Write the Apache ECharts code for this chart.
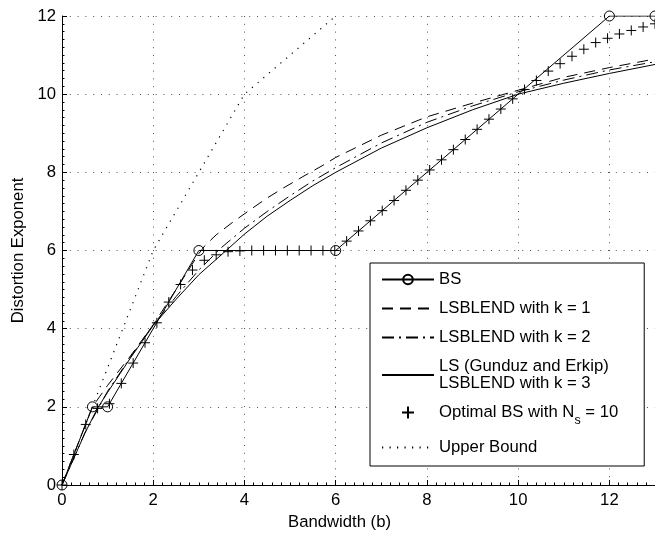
<!DOCTYPE html>
<html><head><meta charset="utf-8">
<script src="https://cdn.jsdelivr.net/npm/echarts@6/dist/echarts.min.js"></script>
<style>html,body{margin:0;padding:0;background:#fff}#c{width:655px;height:536px}</style>
</head><body><div id="c"></div>
<script>
// ---- data ----
const seriesNames = ['BS', 'LSBLEND with k = 1', 'LSBLEND with k = 2', 'LS (Gunduz and Erkip)\nLSBLEND with k = 3', 'Optimal BS with Ns = 10', 'Upper Bound'];

const bsX = [0, 0.667, 1, 3, 6, 12, 13];
const bsY = [0, 2, 2, 6, 6, 12, 12];

const k1X = [0, 0.667, 1, 1.5, 2, 2.5, 3, 3.13, 3.38, 3.75, 4.11, 4.48, 4.84, 5.28, 5.72, 6, 7, 8, 9, 10, 11, 12, 13];
const k1Y = [0, 2, 2.55, 3.3, 4.1, 5.0, 5.92, 6.12, 6.4, 6.73, 7.03, 7.33, 7.59, 7.89, 8.18, 8.38, 8.95, 9.42, 9.77, 10.1, 10.43, 10.68, 10.9];

const k2X = [0, 0.5, 1, 1.5, 2, 2.5, 3, 3.5, 4, 4.5, 5, 5.5, 6, 7, 8, 9, 10, 11, 12, 13];
const k2Y = [0, 1.33, 2.4, 3.27, 4.1, 4.82, 5.5, 6.08, 6.57, 7.0, 7.4, 7.78, 8.12, 8.75, 9.28, 9.7, 10.06, 10.36, 10.62, 10.83];

const lsX = [0, 0.5, 0.78, 1, 1.5, 2, 2.5, 3, 3.6, 4, 4.5, 5, 5.5, 6, 7, 8, 9, 10, 11, 12, 13];
const lsY = [0, 1.32, 1.97, 2.37, 3.25, 4.08, 4.75, 5.38, 6.0, 6.42, 6.88, 7.28, 7.66, 8.0, 8.62, 9.14, 9.6, 10.0, 10.28, 10.53, 10.76];

const optX = [0, 0.26, 0.52, 0.78, 1.04, 1.3, 1.56, 1.82, 2.08, 2.34, 2.6, 2.86, 3.12, 3.38, 3.64, 3.9, 4.16, 4.42, 4.68, 4.94, 5.2, 5.46, 5.72, 5.98, 6.24, 6.5, 6.76, 7.02, 7.28, 7.54, 7.8, 8.06, 8.32, 8.58, 8.84, 9.1, 9.36, 9.62, 9.88, 10.14, 10.4, 10.66, 10.92, 11.18, 11.44, 11.7, 11.96, 12.22, 12.48, 12.74, 13.0];
const optY = [0, 0.78, 1.55, 1.96, 2.08, 2.6, 3.12, 3.64, 4.15, 4.68, 5.13, 5.5, 5.75, 5.89, 5.97, 5.99, 6, 6, 6, 6, 6, 6, 6, 6, 6.24, 6.5, 6.76, 7.02, 7.28, 7.54, 7.8, 8.06, 8.32, 8.58, 8.84, 9.1, 9.36, 9.62, 9.88, 10.12, 10.35, 10.59, 10.78, 10.97, 11.15, 11.32, 11.43, 11.54, 11.63, 11.72, 11.8];

const ubX = [0, 2, 4, 6];
const ubY = [0, 6, 10, 12];

const xTicks = [0, 2, 4, 6, 8, 10, 12];
const yTicks = [0, 2, 4, 6, 8, 10, 12];

// ---- chart ----
const zip = (xs, ys) => xs.map((x, i) => [x, ys[i]]);
const FONT = 'Liberation Sans, Arial, Helvetica, sans-serif';
const FS = 16.7;
const plusPath = 'path://M0,5L10,5M5,0L5,10';
const gridLine = { show: true, lineStyle: { color: '#555', width: 1, type: [1, 6.8] } };

function axisCommon(ticks) {
  return {
    type: 'value', min: ticks[0], interval: ticks[1] - ticks[0],
    axisLine: { show: true, onZero: false, lineStyle: { color: '#000', width: 1 } },
    axisTick: { show: true, inside: true, length: 5, lineStyle: { color: '#000' } },
    minorTick: { show: true, splitNumber: 10, length: 2.5, lineStyle: { color: '#000' } },
    splitLine: gridLine,
    axisLabel: { color: '#000', fontSize: FS, fontFamily: FONT },
    nameTextStyle: { color: '#000', fontSize: FS, fontFamily: FONT }
  };
}

const xAxis = Object.assign(axisCommon(xTicks), {
  max: 13, name: 'Bandwidth (b)', nameLocation: 'middle', nameGap: 27
});
xAxis.axisLabel.showMaxLabel = false;
xAxis.axisLabel.margin = 7;
xAxis.nameTextStyle.padding = [0, 38, 0, 0];

const yAxis = Object.assign(axisCommon(yTicks), {
  max: 12, name: 'Distortion Exponent', nameLocation: 'middle', nameGap: 30
});
yAxis.axisLabel.margin = 6;

const lineBase = (name, data, type) => ({
  name, type: 'line', data, symbol: 'none', clip: true,
  lineStyle: { color: '#000', width: 1, type },
  itemStyle: { color: '#000' },
  emphasis: { disabled: true }, z: 3
});

const noSym = { opacity: 0 };

const option = {
  animation: false,
  backgroundColor: '#fff',
  grid: { left: 62, right: -1, top: 16, bottom: 51, containLabel: false },
  xAxis, yAxis,
  legend: {
    orient: 'vertical', left: 370, top: 263,
    padding: [8, 26, 10, 11],
    itemWidth: 52, itemHeight: 12, itemGap: 12,
    backgroundColor: '#fff', borderColor: '#000', borderWidth: 1, borderRadius: 0,
    selectedMode: false,
    textStyle: {
      color: '#000', fontSize: FS, fontFamily: FONT, lineHeight: 17,
      rich: {
        n: { fontSize: FS, fontFamily: FONT, color: '#000', lineHeight: 17, padding: [0, 0, 6, 0], verticalAlign: 'top' },
        sub: { fontSize: 12.5, fontFamily: FONT, color: '#000', lineHeight: 13, padding: [10, 0, 0, 0], verticalAlign: 'top' }
      }
    },
    formatter: (name) => name === seriesNames[4] ? '{n|Optimal BS with N}{sub|s}{n| = 10}' : name,
    data: [
      { name: seriesNames[0] },
      { name: seriesNames[1], itemStyle: noSym },
      { name: seriesNames[2], itemStyle: noSym },
      { name: seriesNames[3], itemStyle: noSym },
      { name: seriesNames[4] },
      { name: seriesNames[5], itemStyle: noSym }
    ]
  },
  series: [
    Object.assign(lineBase(seriesNames[0], zip(bsX, bsY), 'solid'), {
      symbol: 'circle', symbolSize: 10, showAllSymbol: true,
      itemStyle: { color: 'rgba(255,255,255,0)', borderColor: '#000', borderWidth: 1 }
    }),
    lineBase(seriesNames[1], zip(k1X, k1Y), [11, 7]),
    lineBase(seriesNames[2], zip(k2X, k2Y), [12, 5, 2, 5]),
    lineBase(seriesNames[3], zip(lsX, lsY), 'solid'),
    {
      name: seriesNames[4], type: 'scatter', data: zip(optX, optY),
      symbol: plusPath, symbolSize: 10, symbolKeepAspect: true,
      itemStyle: { color: 'none', borderColor: '#000', borderWidth: 1, opacity: 1 },
      emphasis: { disabled: true }, z: 4
    },
    Object.assign(lineBase(seriesNames[5], zip(ubX, ubY), [1, 6.5]), {
      lineStyle: { color: '#000', width: 1.2, type: [1.2, 6.3] }
    })
  ]
};

const chart = echarts.init(document.getElementById('c'), null, { renderer: 'canvas' });
chart.setOption(option);
</script></body></html>
